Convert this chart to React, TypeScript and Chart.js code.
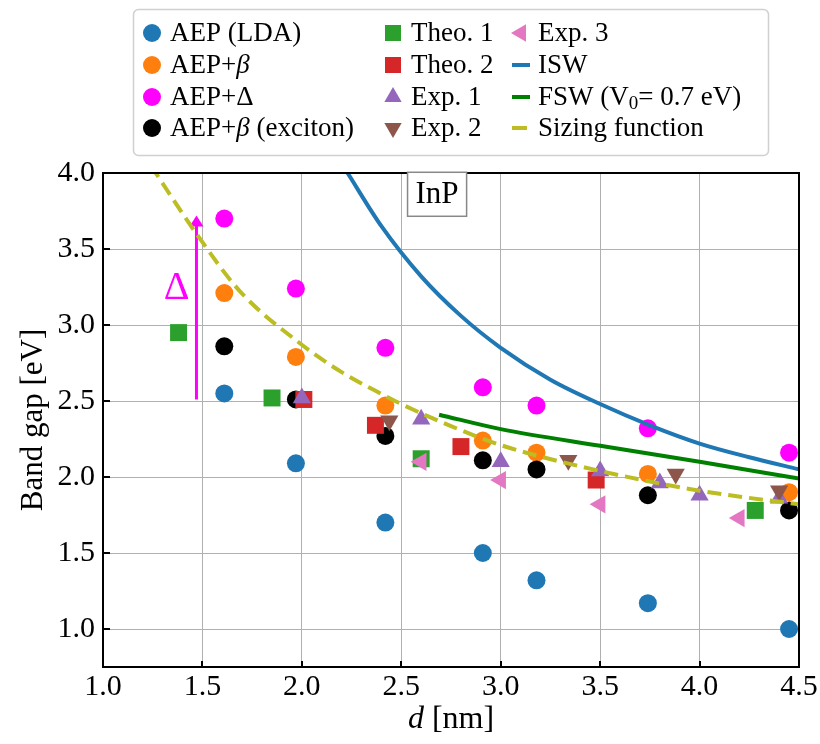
import React, { useEffect, useRef } from 'react';
import { Chart, registerables } from 'chart.js';

Chart.register(...registerables);

// ---------- axis ticks ----------
const X_TICKS = [1.0, 1.5, 2.0, 2.5, 3.0, 3.5, 4.0, 4.5];
const Y_TICKS = [1.0, 1.5, 2.0, 2.5, 3.0, 3.5, 4.0];

// ---------- AEP data (d in nm, gap in eV) ----------
const AEP_D = [1.61, 1.97, 2.42, 2.91, 3.18, 3.74, 4.45];
const AEP_LDA = [2.55, 2.09, 1.70, 1.50, 1.32, 1.17, 1.00];
const AEP_BETA = [3.21, 2.79, 2.47, 2.24, 2.16, 2.02, 1.90];
const AEP_DELTA = [3.70, 3.24, 2.85, 2.59, 2.47, 2.32, 2.16];
const AEP_EXCITON = [2.86, 2.51, 2.27, 2.11, 2.05, 1.88, 1.78];

// ---------- reference data ----------
const THEO1_D = [1.38, 1.85, 2.60, 4.28];
const THEO1_E = [2.95, 2.52, 2.12, 1.78];
const THEO2_D = [2.01, 2.37, 2.80, 3.48];
const THEO2_E = [2.51, 2.34, 2.20, 1.98];
const EXP1_D = [2.00, 2.60, 3.00, 3.50, 3.80, 4.00, 4.40];
const EXP1_E = [2.52, 2.38, 2.10, 2.04, 1.96, 1.88, 1.86];
const EXP2_D = [2.44, 3.34, 3.88, 4.40];
const EXP2_E = [2.37, 2.11, 2.02, 1.91];
const EXP3_D = [2.60, 3.00, 3.50, 4.20];
const EXP3_E = [2.10, 1.98, 1.82, 1.73];

// ---------- model curves ----------
const ISW_D = [2.23, 2.4, 2.6, 2.8, 3.0, 3.25, 3.5, 3.75, 4.0, 4.25, 4.5];
const ISW_E = [4.00, 3.65, 3.32, 3.06, 2.85, 2.64, 2.48, 2.34, 2.22, 2.13, 2.05];
const FSW_D = [2.69, 3.0, 3.5, 4.0, 4.5];
const FSW_E = [2.41, 2.315, 2.205, 2.10, 1.99];
const SIZING_D = [1.24, 1.47, 1.69, 1.99, 2.2, 2.41, 2.5, 2.75, 3.0, 3.5, 4.0, 4.5];
const SIZING_E = [4.05, 3.60, 3.22, 2.88, 2.69, 2.54, 2.48, 2.335, 2.21, 2.04, 1.91, 1.82];

// ---------- annotations ----------
const ARROW_D = 1.47;
const ARROW_FROM = 2.51;
const ARROW_TO = 3.72;
const DELTA_LABEL = { d: 1.37, e: 3.24, text: 'Δ' };
const INP_LABEL = { d: 2.68, e: 3.86, text: 'InP' };

const SERIF = "'Liberation Serif', 'DejaVu Serif', serif";

type Seg = { t: string; it?: boolean; sub?: boolean };

const LEGEND_LABELS: Seg[][] = [
  [{ t: 'AEP (LDA)' }],
  [{ t: 'AEP+' }, { t: 'β', it: true }],
  [{ t: 'AEP+Δ' }],
  [{ t: 'AEP+' }, { t: 'β', it: true }, { t: ' (exciton)' }],
  [{ t: 'Theo. 1' }],
  [{ t: 'Theo. 2' }],
  [{ t: 'Exp. 1' }],
  [{ t: 'Exp. 2' }],
  [{ t: 'Exp. 3' }],
  [{ t: 'ISW' }],
  [{ t: 'FSW (V' }, { t: '0', sub: true }, { t: '= 0.7 eV)' }],
  [{ t: 'Sizing function' }],
];

const zip = (xs: number[], ys: number[]) => xs.map((x, i) => ({ x, y: ys[i] }));

function pts(label: string, xs: number[], ys: number[], color: string, style: string, radius: number, rotation: number, order: number) {
  return {
    type: 'scatter',
    label,
    data: zip(xs, ys),
    showLine: false,
    backgroundColor: color,
    borderColor: color,
    borderWidth: 0,
    pointStyle: style,
    pointRadius: radius,
    pointHoverRadius: radius,
    pointRotation: rotation,
    order,
    legendKind: 'point',
  };
}

function curve(label: string, xs: number[], ys: number[], color: string, dash: number[], order: number) {
  return {
    type: 'line',
    label,
    data: zip(xs, ys),
    showLine: true,
    fill: false,
    borderColor: color,
    backgroundColor: color,
    borderWidth: 4,
    borderDash: dash,
    borderCapStyle: 'butt',
    borderJoinStyle: 'round',
    pointRadius: 0,
    pointHoverRadius: 0,
    cubicInterpolationMode: 'monotone',
    clip: 0,
    order,
    legendKind: 'line',
  };
}

function drawMarker(ctx: CanvasRenderingContext2D, kind: string, x: number, y: number, color: string, rotation: number) {
  ctx.save();
  ctx.fillStyle = color;
  ctx.beginPath();
  if (kind === 'circle') {
    ctx.arc(x, y, 9, 0, Math.PI * 2);
  } else if (kind === 'rect') {
    ctx.rect(x - 8, y - 8, 16, 16);
  } else if (kind === 'triangle') {
    const r = 10;
    let a = (rotation * Math.PI) / 180;
    ctx.moveTo(x + Math.sin(a) * r, y - Math.cos(a) * r);
    a += (2 * Math.PI) / 3;
    ctx.lineTo(x + Math.sin(a) * r, y - Math.cos(a) * r);
    a += (2 * Math.PI) / 3;
    ctx.lineTo(x + Math.sin(a) * r, y - Math.cos(a) * r);
    ctx.closePath();
  }
  ctx.fill();
  ctx.restore();
}

function drawRich(ctx: CanvasRenderingContext2D, segs: Seg[], x: number, y: number, size: number) {
  let cx = x;
  ctx.textAlign = 'left';
  ctx.textBaseline = 'middle';
  for (const s of segs) {
    const fs = s.sub ? Math.round(size * 0.7) : size;
    ctx.font = `${s.it ? 'italic ' : ''}${fs}px ${SERIF}`;
    ctx.fillText(s.t, cx, s.sub ? y + size * 0.22 : y);
    cx += ctx.measureText(s.t).width;
  }
  return cx;
}

function richWidth(ctx: CanvasRenderingContext2D, segs: Seg[], size: number) {
  let w = 0;
  for (const s of segs) {
    const fs = s.sub ? Math.round(size * 0.7) : size;
    ctx.font = `${s.it ? 'italic ' : ''}${fs}px ${SERIF}`;
    w += ctx.measureText(s.t).width;
  }
  return w;
}

const decorPlugin = {
  id: 'decor',
  beforeDatasetsDraw(chart: any) {
    const { ctx, scales } = chart;
    const xs = scales.x, ys = scales.y;
    const px = xs.getPixelForValue(ARROW_D);
    const y0 = ys.getPixelForValue(ARROW_FROM);
    const y1 = ys.getPixelForValue(ARROW_TO);
    ctx.save();
    ctx.strokeStyle = '#ff00ff';
    ctx.fillStyle = '#ff00ff';
    ctx.lineWidth = 3;
    ctx.beginPath();
    ctx.moveTo(px, y0);
    ctx.lineTo(px, y1 + 8);
    ctx.stroke();
    ctx.beginPath();
    ctx.moveTo(px, y1);
    ctx.lineTo(px - 7, y1 + 11);
    ctx.lineTo(px + 7, y1 + 11);
    ctx.closePath();
    ctx.fill();
    ctx.restore();
  },
  afterDraw(chart: any) {
    const { ctx, chartArea, scales } = chart;
    const xs = scales.x, ys = scales.y;
    const { left, right, top, bottom } = chartArea;
    ctx.save();

    // inward tick marks
    ctx.strokeStyle = '#000';
    ctx.lineWidth = 2;
    for (const v of Y_TICKS) {
      const py = Math.round(ys.getPixelForValue(v));
      ctx.beginPath();
      ctx.moveTo(left, py);
      ctx.lineTo(left + 7, py);
      ctx.stroke();
    }
    for (const v of X_TICKS) {
      const px = Math.round(xs.getPixelForValue(v));
      ctx.beginPath();
      ctx.moveTo(px, bottom);
      ctx.lineTo(px, bottom - 6);
      ctx.stroke();
    }
    // frame
    ctx.lineWidth = 2;
    ctx.strokeRect(left, top, right - left, bottom - top);

    // Delta label
    ctx.fillStyle = '#ff00ff';
    ctx.font = `40px ${SERIF}`;
    ctx.textAlign = 'center';
    ctx.textBaseline = 'middle';
    ctx.fillText(DELTA_LABEL.text, xs.getPixelForValue(DELTA_LABEL.d), ys.getPixelForValue(DELTA_LABEL.e));

    // InP box
    const ix = xs.getPixelForValue(INP_LABEL.d);
    const iy = ys.getPixelForValue(INP_LABEL.e);
    ctx.font = `31px ${SERIF}`;
    const iw = ctx.measureText(INP_LABEL.text).width;
    ctx.fillStyle = '#fff';
    ctx.fillRect(ix - iw / 2 - 8, iy - 22, iw + 16, 44);
    ctx.strokeStyle = '#888';
    ctx.lineWidth = 1.5;
    ctx.strokeRect(ix - iw / 2 - 8, iy - 22, iw + 16, 44);
    ctx.fillStyle = '#000';
    ctx.fillText(INP_LABEL.text, ix, iy + 1);

    // axis titles
    ctx.fillStyle = '#000';
    const xt: Seg[] = [{ t: 'd', it: true }, { t: ' [nm]' }];
    const xw = richWidth(ctx, xt, 32);
    drawRich(ctx, xt, (left + right) / 2 - xw / 2, 720, 32);
    ctx.save();
    ctx.translate(34, (top + bottom) / 2);
    ctx.rotate(-Math.PI / 2);
    ctx.font = `31px ${SERIF}`;
    ctx.textAlign = 'center';
    ctx.textBaseline = 'middle';
    ctx.fillText('Band gap [eV]', 0, 0);
    ctx.restore();

    // legend
    const bx = 133.5, by = 9.5, bw = 635, bh = 146;
    ctx.fillStyle = 'rgba(255,255,255,0.9)';
    ctx.strokeStyle = '#d0d0d0';
    ctx.lineWidth = 1.5;
    ctx.beginPath();
    (ctx as any).roundRect(bx, by, bw, bh, 5);
    ctx.fill();
    ctx.stroke();

    const colMarker = [152, 393, 521];
    const colText = [170, 411, 538];
    const rowY = [33, 65, 97, 128];
    chart.data.datasets.forEach((ds: any, i: number) => {
      const col = Math.floor(i / 4), row = i % 4;
      const mx = colMarker[col], my = rowY[row];
      if (ds.legendKind === 'point') {
        drawMarker(ctx, ds.pointStyle, mx, my, ds.backgroundColor, ds.pointRotation);
      } else {
        ctx.save();
        ctx.strokeStyle = ds.borderColor;
        ctx.lineWidth = 4;
        ctx.beginPath();
        ctx.moveTo(mx - 9, my);
        ctx.lineTo(ds.borderDash.length ? mx + 6 : mx + 9, my);
        ctx.stroke();
        ctx.restore();
      }
      ctx.fillStyle = '#000';
      drawRich(ctx, LEGEND_LABELS[i], colText[col], my + 1, 27);
    });

    ctx.restore();
  },
};

export default function App() {
  const ref = useRef<HTMLCanvasElement | null>(null);
  useEffect(() => {
    if (!ref.current) return;
    const N = 12;
    const datasets: any[] = [
      pts('AEP (LDA)', AEP_D, AEP_LDA, '#1f77b4', 'circle', 9, 0, N - 0),
      pts('AEP+β', AEP_D, AEP_BETA, '#ff7f0e', 'circle', 9, 0, N - 1),
      pts('AEP+Δ', AEP_D, AEP_DELTA, '#ff00ff', 'circle', 9, 0, N - 2),
      pts('AEP+β (exciton)', AEP_D, AEP_EXCITON, '#000000', 'circle', 9, 0, N - 3),
      pts('Theo. 1', THEO1_D, THEO1_E, '#2ca02c', 'rect', 12, 0, N - 4),
      pts('Theo. 2', THEO2_D, THEO2_E, '#d62728', 'rect', 12, 0, N - 5),
      pts('Exp. 1', EXP1_D, EXP1_E, '#9467bd', 'triangle', 10.5, 0, N - 6),
      pts('Exp. 2', EXP2_D, EXP2_E, '#8c564b', 'triangle', 10.5, 180, N - 7),
      pts('Exp. 3', EXP3_D, EXP3_E, '#e377c2', 'triangle', 10.5, -90, N - 8),
      curve('ISW', ISW_D, ISW_E, '#1f77b4', [], N - 9),
      curve('FSW (V0= 0.7 eV)', FSW_D, FSW_E, '#008000', [], N - 10),
      curve('Sizing function', SIZING_D, SIZING_E, '#bcbd22', [14, 7], N - 11),
    ];
    const tickFont = { family: SERIF, size: 30 };
    const chart = new Chart(ref.current, {
      type: 'scatter',
      data: { datasets },
      options: {
        animation: false,
        responsive: false,
        devicePixelRatio: 1,
        events: [],
        layout: { padding: { top: 173, right: 21, left: 0, bottom: 0 } },
        plugins: { legend: { display: false }, tooltip: { enabled: false } },
        scales: {
          x: {
            type: 'linear',
            min: 1.0,
            max: 4.5,
            afterBuildTicks: (s: any) => { s.ticks = X_TICKS.map((v) => ({ value: v })); },
            afterFit: (s: any) => { s.height = 77; },
            ticks: {
              font: tickFont,
              color: '#000',
              padding: 2,
              maxRotation: 0,
              autoSkip: false,
              callback: (v: any) => Number(v).toFixed(1),
            },
            grid: { color: '#b0b0b0', lineWidth: 1, drawTicks: false },
            border: { display: false },
          },
          y: {
            type: 'linear',
            min: 0.75,
            max: 4.0,
            afterBuildTicks: (s: any) => { s.ticks = Y_TICKS.map((v) => ({ value: v })); },
            afterFit: (s: any) => { s.width = 103; },
            ticks: {
              font: tickFont,
              color: '#000',
              padding: 8,
              autoSkip: false,
              callback: (v: any) => Number(v).toFixed(1),
            },
            grid: { color: '#b0b0b0', lineWidth: 1, drawTicks: false },
            border: { display: false },
          },
        },
      },
      plugins: [decorPlugin],
    } as any);
    return () => chart.destroy();
  }, []);
  return (
    <div style={{ position: 'fixed', left: 0, top: 0, width: 820, height: 744, background: '#fff' }}>
      <canvas ref={ref} width={820} height={744} style={{ width: 820, height: 744, display: 'block' }} />
    </div>
  );
}
